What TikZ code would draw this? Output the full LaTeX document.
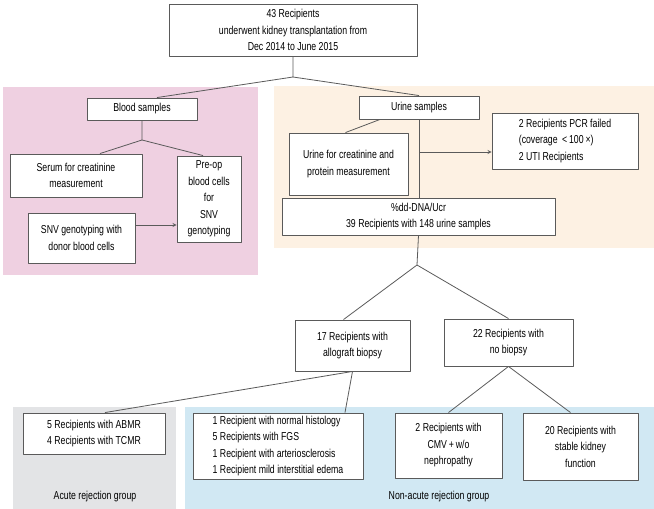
\documentclass[tikz,border=0pt]{standalone}
\usepackage{fontspec}
\setmainfont{Liberation Sans}[FakeStretch=0.76]
\definecolor{pinkbg}{HTML}{EFD0E1}
\definecolor{orangebg}{HTML}{FDF1E3}
\definecolor{graybg}{HTML}{E3E4E6}
\definecolor{bluebg}{HTML}{D1E8F3}
\definecolor{linegray}{HTML}{5A5A5A}
\begin{document}
\begin{tikzpicture}[x=1pt,y=-1pt,line join=round,>=stealth,font=\fontsize{11.5}{16.5}\selectfont]
\tikzset{box/.style={draw=linegray,line width=.9pt,fill=white,align=center,inner sep=2pt},
 link/.style={draw=linegray,line width=.8pt}}
\useasboundingbox (0,0) rectangle (654,509);
% coloured groups
\fill[pinkbg] (3,87) rectangle (258,275);
\fill[orangebg] (274,86) rectangle (654,248);
\fill[graybg] (13,407) rectangle (176,509);
\fill[bluebg] (185,407) rectangle (654,509);
% boxes
\node[box,minimum width=248pt,minimum height=52pt] (top) at (293,30) {43 Recipients\\underwent kidney transplantation from\\Dec 2014 to June 2015};
\node[box,minimum width=110pt,minimum height=22pt] (blood) at (142,109) {Blood samples};
\node[box,minimum width=132pt,minimum height=43pt] (serum) at (76,175.5) {Serum for creatinine\\measurement};
\node[box,minimum width=64pt,minimum height=86pt] (preop) at (209,199) {Pre-op\\blood cells\\for\\SNV\\genotyping};
\node[box,minimum width=107pt,minimum height=50pt] (snv) at (81.5,238) {SNV genotyping with\\donor blood cells};
\node[box,minimum width=120pt,minimum height=23pt] (urine) at (419,107.5) {Urine samples};
\node[box,minimum width=119pt,minimum height=62pt] (ucr) at (348.5,164) {Urine for creatinine and\\protein measurement};
\node[box,align=left,minimum width=146pt,minimum height=56pt] (pcr) at (565,141) {2 Recipients PCR failed\\(coverage \,<\,100\,×)\\2 UTI Recipients};
\node[box,minimum width=273pt,minimum height=37pt] (dd) at (418.5,216.5) {\%dd-DNA/Ucr\\39 Recipients with 148 urine samples};
\node[box,minimum width=115pt,minimum height=51pt] (bx17) at (352.5,345.5) {17 Recipients with\\allograft biopsy};
\node[box,minimum width=129pt,minimum height=47pt] (bx22) at (508.5,342.5) {22 Recipients with\\no biopsy};
\node[box,minimum width=142pt,minimum height=41pt] (abmr) at (94,433.5) {5 Recipients with ABMR\\4 Recipients with TCMR};
\node[box,align=left,minimum width=170pt,minimum height=66pt] (hist) at (278,446) {1 Recipient with normal histology\\5 Recipients with FGS\\1 Recipient with arteriosclerosis\\1 Recipient mild interstitial edema};
\node[box,minimum width=107pt,minimum height=65pt] (cmv) at (448.5,445.5) {2 Recipients with\\CMV\,+\,w/o\\nephropathy};
\node[box,minimum width=115pt,minimum height=67pt] (stable) at (580.5,446.5) {20 Recipients with\\stable kidney\\function};
\node (acute) at (95,497) {Acute rejection group};
\node (nonacute) at (439,497) {Non-acute rejection group};
% connectors
\coordinate (j1) at (293,77);
\coordinate (j2) at (142,140);
\coordinate (j4) at (417,265);
\draw[link] (top.south)--(j1)--([xshift=15pt]blood.north);
\draw[link] (j1)--(urine.north);
\draw[link] (blood.south)--(j2)--([xshift=24pt]serum.north);
\draw[link] (j2)--([xshift=-6pt]preop.north);
\draw[link,->] ([yshift=13pt]snv.east)--([yshift=13pt]snv.east -| preop.west);
\draw[link] ([xshift=-39pt]urine.south)--([xshift=-3pt]ucr.north);
\draw[link] (urine.south)--(urine.south |- dd.north);
\draw[link,->] ([yshift=-11pt]pcr.west -| urine.south)--([yshift=-11pt]pcr.west);
\draw[link] (dd.south)--(j4)--([xshift=-9pt]bx17.north);
\draw[link] (j4)--(bx22.north);
\draw[link] (bx17.south)--([xshift=11pt]abmr.north);
\draw[link] (bx17.south)--([xshift=67pt]hist.north);
\draw[link] (bx22.south)--(cmv.north);
\draw[link] (bx22.south)--([xshift=-10pt]stable.north);
\end{tikzpicture}
\end{document}
